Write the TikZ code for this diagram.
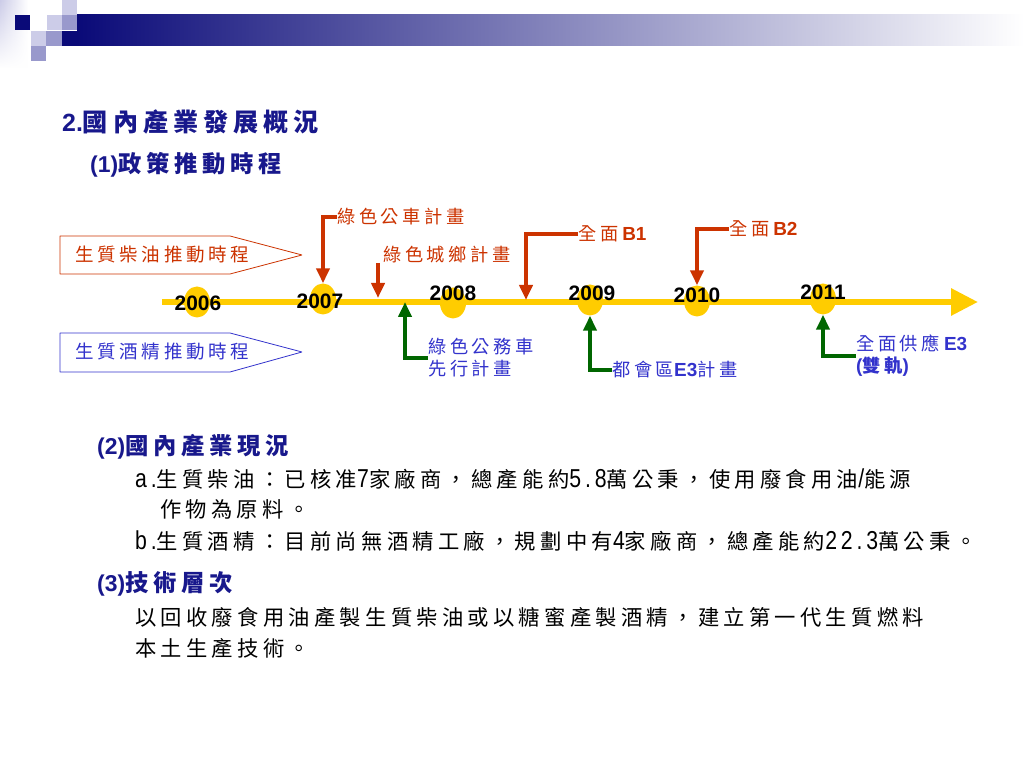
\documentclass[tikz,border=0pt]{standalone}
\usepackage{fontspec}
\usepackage{tikz}
\usetikzlibrary{positioning, arrows, shapes.geometric, fadings}
\usetikzlibrary{arrows.meta}
\newfontfamily\cjk[LetterSpace=20]{Noto Sans CJK TC}
\newfontfamily\arial{Liberation Sans}
\newfontfamily\arialn[FakeStretch=0.82,LetterSpace=15]{Liberation Sans}
\definecolor{navy}{RGB}{24,24,140}
\definecolor{deepnavy}{RGB}{10,10,120}
\definecolor{firered}{RGB}{204,51,0}
\definecolor{penblue}{RGB}{51,51,204}
\definecolor{leafgreen}{RGB}{0,102,0}
\definecolor{sunyellow}{RGB}{255,204,0}
\definecolor{lav90}{RGB}{204,204,232}
\definecolor{lav60}{RGB}{153,153,204}
\definecolor{barmid}{RGB}{165,165,188}
\def\zh#1#2{{\cjk\fontsize{#1}{#1}\selectfont #2}}
\def\zhb#1#2{{\cjk\bfseries\fontsize{#1}{#1}\selectfont #2}}
\def\latb#1#2{{\arial\bfseries\fontsize{#1}{#1}\selectfont #2}}
\def\lat#1{{\arialn\fontsize{26}{26}\selectfont #1}}
\begin{document}
\begin{tikzpicture}[>=latex',line join=bevel,x=1bp,y=1bp,
    redarrow/.style={draw=firered,line width=4bp,line join=miter,-{Triangle[length=15bp,width=13bp]}},
    greenarrow/.style={draw=leafgreen,line width=4bp,line join=miter,-{Triangle[length=15bp,width=13bp]}},
    dot/.style={ellipse,fill=sunyellow,minimum width=26bp,minimum height=31bp,inner sep=0pt},
    yearlabel/.style={inner sep=0pt,text=black},
    txt/.style={anchor=west,inner sep=0pt,align=left}]
      \fill [white] (0bp,0bp) rectangle (1024bp,768bp);
      \useasboundingbox (0bp,0bp) rectangle (1024bp,768bp);
      %%
      \begin{scope}
        \shade [left color=lav90, right color=white, path fading=south] (0bp,700bp) rectangle (28bp,768bp);
        \shade [left color=deepnavy, middle color=barmid, right color=white] (77bp,722bp) rectangle (1024bp,753bp);
        \fill [deepnavy] (15bp,738bp) rectangle (30bp,753bp);
        \fill [lav90] (47bp,738bp) rectangle (62bp,753bp);
        \fill [lav60] (62bp,738bp) rectangle (77bp,753bp);
        \fill [lav90] (62bp,753bp) rectangle (77bp,768bp);
        \fill [lav90] (31bp,722bp) rectangle (46bp,737bp);
        \fill [lav60] (46bp,722bp) rectangle (62bp,737bp);
        \fill [deepnavy] (62bp,722bp) rectangle (77bp,737bp);
        \fill [lav60] (31bp,707bp) rectangle (46bp,722bp);
      \end{scope}
      %%
      \node (title) at (62bp,646bp) [txt,text=navy] {\latb{25}{2.}\zhb{25.2}{國內產業發展概況}};
      \node (policy) at (90bp,603bp) [txt,text=navy] {\latb{23}{(1)}\zhb{23.4}{政策推動時程}};
      %%
      \draw [firered,line width=0.8bp] (60bp,532bp) -- (230bp,532bp) -- (302bp,513bp) -- (230bp,494bp) -- (60bp,494bp) -- cycle;
      \node (diesel) at (75bp,513bp) [txt,text=firered] {\zh{18.6}{生質柴油推動時程}};
      \draw [penblue,line width=0.8bp] (60bp,435bp) -- (230bp,435bp) -- (302bp,416bp) -- (230bp,396bp) -- (60bp,396bp) -- cycle;
      \node (ethanol) at (75bp,416bp) [txt,text=penblue] {\zh{18.6}{生質酒精推動時程}};
      %%
      \node (c2006) at (197bp,466bp) [dot] {};
      \node (c2007) at (323bp,469bp) [dot] {};
      \node (c2008) at (453bp,465bp) [dot] {};
      \node (c2009) at (590bp,468bp) [dot] {};
      \node (c2010) at (697bp,467bp) [dot] {};
      \node (c2011) at (823bp,469bp) [dot] {};
      \coordinate (start) at (162bp,466bp);
      \coordinate (end) at (978bp,466bp);
      \draw [sunyellow,line width=6bp,-{Triangle[length=27bp,width=26bp]}] (start) -- (end);
      \node (y2006) at (198bp,465bp) [yearlabel] {\latb{21}{2006}};
      \node (y2007) at (320bp,467bp) [yearlabel] {\latb{21}{2007}};
      \node (y2008) at (453bp,475bp) [yearlabel] {\latb{21}{2008}};
      \node (y2009) at (592bp,475bp) [yearlabel] {\latb{21}{2009}};
      \node (y2010) at (697bp,473bp) [yearlabel] {\latb{21}{2010}};
      \node (y2011) at (823bp,476bp) [yearlabel] {\latb{21}{2011}};
      %%
      \node (gbus) at (337bp,551bp) [txt,text=firered] {\zh{18.3}{綠色公車計畫}};
      \node (gcity) at (383bp,513bp) [txt,text=firered] {\zh{18.3}{綠色城鄉計畫}};
      \node (b1) at (578bp,534bp) [txt,text=firered] {\zh{18.3}{全面}\hspace{4bp}\latb{19}{B1}};
      \node (b2) at (729bp,539bp) [txt,text=firered] {\zh{18.3}{全面}\hspace{4bp}\latb{19}{B2}};
      \coordinate (gcitytop) at (378bp,505bp);
      \coordinate (gcitytip) at (378bp,470bp);
      \coordinate (b1tip) at (526bp,468bp);
      \draw [redarrow] (gbus.west) -| (c2007.north);
      \draw [redarrow] (gcitytop) -- (gcitytip);
      \draw [redarrow] (b1.west) -| (b1tip);
      \draw [redarrow] (b2.west) -| (c2010.north);
      %%
      \node (gcar) at (428bp,410bp) [txt,text=penblue] {\zh{18.3}{綠色公務車}\\[4bp]\zh{18.3}{先行計畫}};
      \node (metro) at (612bp,398bp) [txt,text=penblue] {\zh{18.3}{都會區}\latb{19}{E3}\zh{18.3}{計畫}};
      \node (supply) at (856bp,412bp) [txt,text=penblue] {\zh{18.3}{全面供應}\hspace{4bp}\latb{19}{E3}\\[4bp]\latb{19}{(}\zhb{18.3}{雙軌}\latb{19}{)}};
      \coordinate (gcartip) at (405bp,466bp);
      \draw [greenarrow] (gcar.west) -| (gcartip);
      \draw [greenarrow] (metro.west) -| (c2009.south);
      \draw [greenarrow] (supply.west) -| (c2011.south);
      %%
      \node (now) at (97bp,321bp) [txt,text=navy] {\latb{23}{(2)}\zhb{23.4}{國內產業現況}};
      \node (linea) at (135bp,289bp) [txt] {\lat{a.}\zh{21.4}{生質柴油：已核准}\lat{7}\zh{21.4}{家廠商，總產能約}\lat{5.8}\zh{21.4}{萬公秉，使用廢食用油}\lat{/}\zh{21.4}{能源}};
      \node (lineac) at (160bp,259bp) [txt] {\zh{21.4}{作物為原料。}};
      \node (lineb) at (135bp,227bp) [txt] {\lat{b.}\zh{21.4}{生質酒精：目前尚無酒精工廠，規劃中有}\lat{4}\zh{21.4}{家廠商，總產能約}\lat{22.3}\zh{21.4}{萬公秉。}};
      \node (tech) at (97bp,184bp) [txt,text=navy] {\latb{23}{(3)}\zhb{23.4}{技術層次}};
      \node (techa) at (135bp,151bp) [txt] {\zh{21.4}{以回收廢食用油產製生質柴油或以糖蜜產製酒精，建立第一代生質燃料}};
      \node (techb) at (135bp,120bp) [txt] {\zh{21.4}{本土生產技術。}};
    \end{tikzpicture}
\end{document}
